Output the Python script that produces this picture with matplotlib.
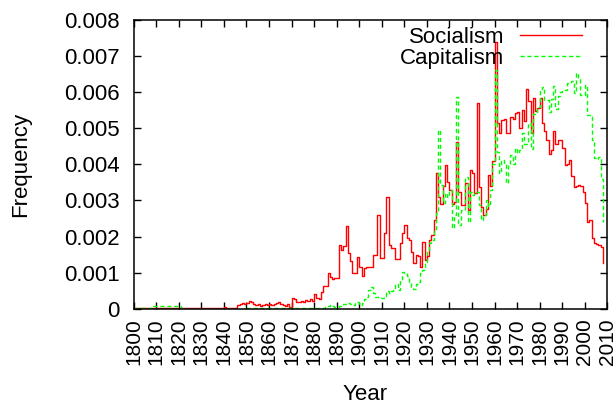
import numpy as np
import matplotlib
matplotlib.use("Agg")
import matplotlib.pyplot as plt

plt.rcParams['font.family'] = ['Liberation Sans', 'DejaVu Sans']

# word frequency per year, in thousandths
years = np.arange(1800, 2009)

socialism = [
    0.01, 0.01, 0.02, 0.01, 0.01, 0.02, 0.01, 0.01, 0.01, 0.02,
    0.01, 0.01, 0.01, 0.02, 0.01, 0.01, 0.01, 0.02, 0.01, 0.01,
    0.01, 0.01, 0.02, 0.01, 0.01, 0.01, 0.01, 0.02, 0.01, 0.01,
    0.01, 0.02, 0.01, 0.01, 0.01, 0.02, 0.01, 0.01, 0.01, 0.02,
    0.06, 0.03, 0.02, 0.02, 0.02, 0.03, 0.10, 0.12, 0.15, 0.13,
    0.16, 0.22, 0.18, 0.12, 0.10, 0.12, 0.08, 0.10, 0.12, 0.10,
    0.12, 0.10, 0.13, 0.15, 0.18, 0.14, 0.10, 0.08, 0.12, 0.06,
    0.30, 0.26, 0.20, 0.18, 0.22, 0.20, 0.24, 0.22, 0.26, 0.22,
    0.42, 0.30, 0.28, 0.47, 0.63, 0.63, 0.98, 0.89, 0.82, 0.85,
    0.85, 1.77, 1.63, 1.74, 2.29, 1.54, 1.33, 0.98, 1.00, 1.43,
    1.17, 0.91, 1.12, 1.17, 1.17, 1.17, 1.49, 1.49, 2.60, 1.40,
    1.40, 2.09, 3.10, 1.77, 1.67, 1.67, 1.37, 1.37, 1.81, 2.09,
    2.32, 1.95, 1.90, 1.56, 1.28, 1.50, 1.45, 1.17, 1.86, 1.35,
    1.45, 1.90, 2.04, 2.46, 3.75, 3.10, 2.90, 3.40, 3.98, 3.50,
    3.30, 2.90, 2.97, 4.63, 3.24, 2.87, 2.87, 3.47, 2.74, 3.84,
    3.75, 3.20, 5.69, 3.38, 2.83, 2.60, 2.75, 3.71, 3.40, 4.08,
    7.40, 5.14, 4.86, 5.22, 5.25, 4.86, 4.86, 5.32, 5.25, 5.41,
    5.45, 5.00, 5.50, 5.21, 6.08, 5.74, 4.88, 5.83, 5.49, 5.55,
    5.83, 5.14, 4.91, 4.68, 4.28, 4.40, 4.91, 4.56, 4.68, 4.68,
    4.45, 3.98, 4.00, 4.12, 3.68, 3.38, 3.40, 3.43, 3.40, 3.24,
    2.92, 2.41, 2.45, 1.95, 1.83, 1.80, 1.77, 1.72, 1.28,
]

capitalism = [
    0.03, 0.03, 0.03, 0.03, 0.03, 0.03, 0.03, 0.03, 0.07, 0.07,
    0.07, 0.07, 0.07, 0.07, 0.07, 0.07, 0.07, 0.07, 0.07, 0.07,
    0.07, 0.01, 0.00, 0.00, 0.00, 0.00, 0.00, 0.00, 0.00, 0.00,
    0.00, 0.00, 0.00, 0.00, 0.00, 0.00, 0.00, 0.00, 0.00, 0.00,
    0.00, 0.00, 0.00, 0.00, 0.00, 0.00, 0.00, 0.00, 0.00, 0.00,
    0.01, 0.01, 0.01, 0.01, 0.01, 0.01, 0.01, 0.01, 0.01, 0.01,
    0.01, 0.01, 0.01, 0.01, 0.01, 0.01, 0.01, 0.01, 0.01, 0.01,
    0.01, 0.01, 0.01, 0.02, 0.01, 0.02, 0.01, 0.01, 0.02, 0.01,
    0.02, 0.02, 0.03, 0.02, 0.03, 0.04, 0.08, 0.10, 0.08, 0.06,
    0.06, 0.08, 0.10, 0.13, 0.15, 0.16, 0.12, 0.10, 0.15, 0.20,
    0.11, 0.15, 0.26, 0.32, 0.52, 0.61, 0.43, 0.32, 0.32, 0.30,
    0.29, 0.35, 0.48, 0.45, 0.50, 0.52, 0.70, 0.52, 0.80, 1.03,
    1.00, 0.90, 0.75, 0.61, 0.56, 0.70, 0.75, 0.98, 1.07, 1.30,
    1.63, 1.81, 1.90, 2.17, 2.64, 4.95, 3.43, 2.92, 3.20, 3.10,
    3.30, 2.23, 2.60, 5.87, 2.32, 2.74, 2.74, 3.66, 2.41, 3.24,
    3.15, 3.24, 3.24, 2.87, 2.45, 2.60, 3.02, 2.85, 3.29, 4.02,
    6.60, 4.35, 3.75, 4.12, 4.00, 3.48, 4.00, 4.26, 4.00, 4.44,
    4.30, 4.40, 4.86, 4.56, 4.56, 5.14, 4.43, 5.40, 5.40, 5.60,
    6.08, 6.13, 5.79, 5.79, 5.46, 5.80, 6.17, 5.53, 5.88, 6.01,
    6.06, 6.06, 6.24, 6.24, 6.30, 5.97, 6.54, 6.35, 5.92, 5.92,
    6.20, 5.37, 5.37, 4.68, 4.17, 4.14, 4.20, 3.60, 2.40,
]

xticks = list(range(1800, 2011, 10))
yticks = [0, 0.001, 0.002, 0.003, 0.004, 0.005, 0.006, 0.007, 0.008]
ytick_labels = ['0', '0.001', '0.002', '0.003', '0.004', '0.005', '0.006', '0.007', '0.008']

fig = plt.figure(figsize=(6.16, 4.05), dpi=100)
ax = fig.add_axes([0.217, 0.2375, 0.769, 0.7135])

ax.plot(years, np.array(socialism) * 1e-3, drawstyle='steps-post',
        color='#ff0000', lw=1.0, label='Socialism')
ax.plot(years, np.array(capitalism) * 1e-3, drawstyle='steps-post',
        color='#00ff00', lw=1.0, dashes=(3, 2), label='Capitalism')

ax.set_xlim(1800, 2010)
ax.set_ylim(0, 0.008)
ax.set_xticks(xticks)
ax.set_xticklabels([str(x) for x in xticks], rotation=90)
ax.set_yticks(yticks)
ax.set_yticklabels(ytick_labels)
ax.tick_params(direction='in', top=True, right=True, length=5, width=1,
               colors='black')
ax.tick_params(axis='y', pad=10, labelsize=16)
ax.tick_params(axis='x', pad=7, labelsize=15)
for s in ax.spines.values():
    s.set_linewidth(1.1)

# axis titles placed in figure coordinates
fig.text(0.592, 0.027, 'Year', fontsize=16, ha='center', va='center')
ax.set_ylabel('Frequency', fontsize=16, labelpad=24)

ax.legend(loc='upper right', bbox_to_anchor=(0.947, 0.975), markerfirst=False,
          frameon=False, fontsize=16, handlelength=2.8, handletextpad=0.7,
          labelspacing=0.0, borderaxespad=0, borderpad=0)

fig.savefig('out.png', dpi=100)
